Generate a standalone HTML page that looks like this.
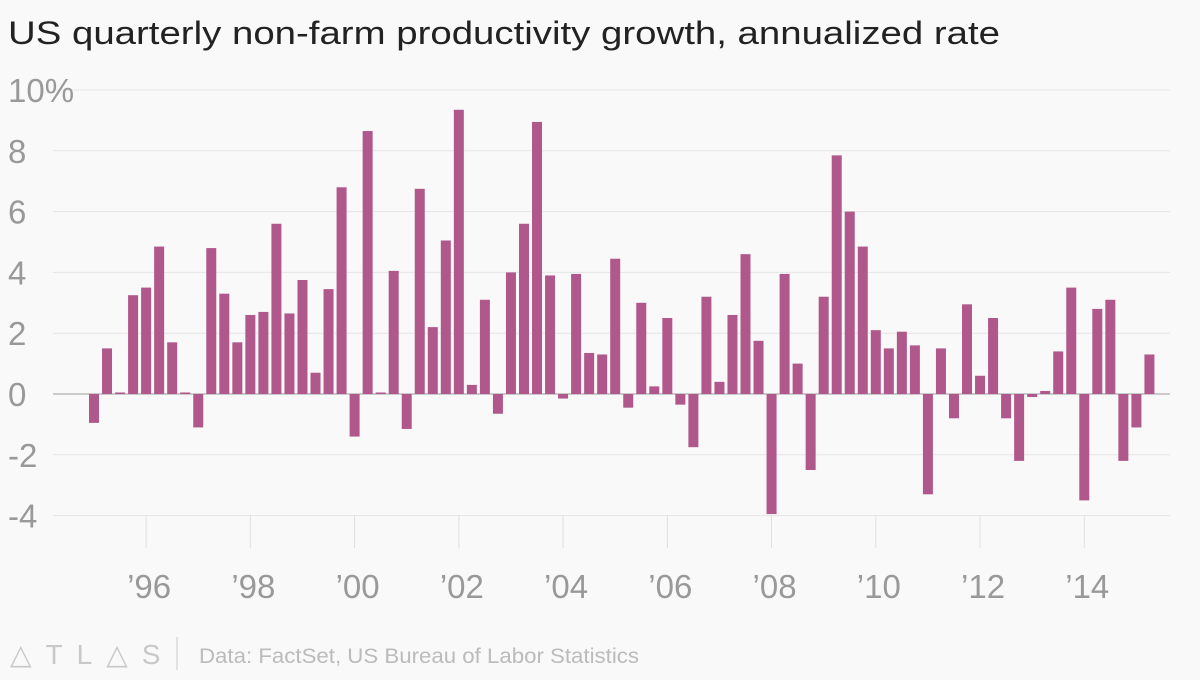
<!DOCTYPE html>
<html><head><meta charset="utf-8"><style>
body{margin:0;background:#f9f9f9;width:1200px;height:675px;overflow:hidden;font-family:"Liberation Sans",sans-serif}
</style></head><body>
<svg width="1200" height="675">
<rect width="1200" height="675" fill="#f9f9f9"/>
<text x="8" y="44" font-size="32" fill="#222" textLength="992" lengthAdjust="spacingAndGlyphs">US quarterly non-farm productivity growth, annualized rate</text>
<g id="grid"></g><g id="bars"></g><g id="xaxis"></g>
<text x="10" y="664" font-size="28" fill="#c8c8c8" letter-spacing="14" font-weight="300">△TL△S</text>
<line x1="177" y1="637" x2="177" y2="670" stroke="#ccc"/>
<text x="199" y="663" font-size="21" fill="#bbb" textLength="440" lengthAdjust="spacingAndGlyphs">Data: FactSet, US Bureau of Labor Statistics</text>
</svg>
<script>
const startYear = 1995;
const values = [-0.95,1.5,0.05,3.25, 3.5,4.85,1.7,0.05, -1.1,4.8,3.3,1.7, 2.6,2.7,5.6,2.65, 3.75,0.7,3.45,6.8, -1.4,8.65,0.05,4.05, -1.15,6.75,2.2,5.05, 9.35,0.3,3.1,-0.65, 4.0,5.6,8.95,3.9, -0.15,3.95,1.35,1.3, 4.45,-0.45,3.0,0.25, 2.5,-0.35,-1.75,3.2, 0.4,2.6,4.6,1.75, -3.95,3.95,1.0,-2.5, 3.2,7.85,6.0,4.85, 2.1,1.5,2.05,1.6, -3.3,1.5,-0.8,2.95, 0.6,2.5,-0.8,-2.2, -0.1,0.1,1.4,3.5, -3.5,2.8,3.1,-2.2, -1.1,1.3];
const yTicks = [10,8,6,4,2,0,-2,-4];
const yTickLabels = ["10%","8","6","4","2","0","-2","-4"];
const xTickYears = [1996,1998,2000,2002,2004,2006,2008,2010,2012,2014];
const xTickLabels = ["’96","’98","’00","’02","’04","’06","’08","’10","’12","’14"];
const NS="http://www.w3.org/2000/svg";
const y = v => 394 - v*30.4;
const x = i => 94 + i*13.03;
const xYear = yr => x((yr-startYear)*4);
function mk(tag, attrs, parent, text){const e=document.createElementNS(NS,tag);for(const k in attrs)e.setAttribute(k,attrs[k]);if(text!=null)e.textContent=text;document.getElementById(parent).appendChild(e);return e;}
yTicks.forEach((t,i)=>{
  const l=mk('line',{x1:53,x2:1170,y1:y(t),y2:y(t),stroke:t===0?'#bbb':'#e6e6e6','stroke-width':t===0?1.5:1},'grid');
  
  
  const tx=mk('text',{x:8,y:y(t)+12,'font-size':33,fill:'#999'},'grid',yTickLabels[i]);
  
  
});
values.forEach((v,i)=>{
  const r=mk('rect',{x:x(i)-5,y:Math.min(y(v),y(0)),width:10,height:Math.abs(y(v)-y(0)),fill:'#b0588c'},'bars');
  
  
});
xTickYears.forEach((yr,i)=>{
  const px=xYear(yr);
  const l=mk('line',{x1:px,x2:px,y1:515,y2:548,stroke:'#e0e0e0'},'xaxis');
  
  
  const t=mk('text',{x:px+3,y:598,'font-size':33,fill:'#999','text-anchor':'middle'},'xaxis',xTickLabels[i]);
  
  
});
</script>
</body></html>
